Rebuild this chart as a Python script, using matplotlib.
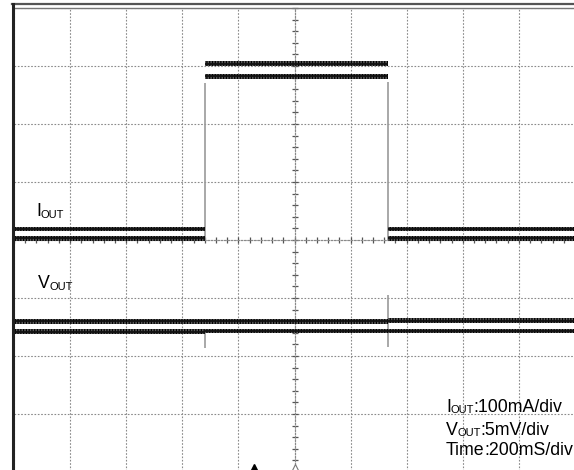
import matplotlib
matplotlib.use("Agg")
import matplotlib.pyplot as plt
from matplotlib.ticker import MultipleLocator, NullFormatter
from matplotlib.lines import Line2D

plt.rcParams["hatch.linewidth"] = 0.9
plt.rcParams["hatch.color"] = "black"

# ---------------- data (time in ms, amplitude in scope divisions) ----------------
segment_edges_ms = [0, 680, 1332, 2000]          # load step on at 680 ms, off at 1332 ms
iout_upper_env = [4.19, 7.04, 4.19]              # peak-detect upper envelope per segment
iout_lower_env = [4.03, 6.82, 4.03]              # peak-detect lower envelope per segment
vout_upper_env = [2.60, 2.60, 2.61]
vout_lower_env = [2.42, 2.43, 2.43]
noise_halfwidth = 0.042                          # half thickness of each envelope trace

iout_edge_ms = [680, 1332]
iout_edge_low = [4.00, 4.00]
iout_edge_high = [6.71, 6.72]

vout_glitch_ms = [680, 1332]
vout_glitch_top = [2.42, 3.05]
vout_glitch_bottom = [2.14, 2.16]

trigger_ms = [855]
center_marker_ms = [1000]
marker_level = [0.04]

label_iout = ("I", "OUT", "")
label_vout = ("V", "OUT", "")
scale_lines = [("I", "OUT", ":100mA/div"), ("V", "OUT", ":5mV/div"), ("Time", "", ":200mS/div")]

# ---------------- figure ----------------
W, H, DPI = 574, 470, 100
fig = plt.figure(figsize=(W / DPI, H / DPI), dpi=DPI)
fig.patch.set_facecolor("white")
ax = fig.add_axes([14 / W, (H - 472) / H, 561 / W, 464 / H])
ax.set_xlim(0, 2000)
ax.set_ylim(0, 8)
ax.set_facecolor("white")

grid_ls = (0, (1.5, 1.5))
ax.xaxis.set_major_locator(MultipleLocator(200))
ax.yaxis.set_major_locator(MultipleLocator(1))
ax.xaxis.set_minor_locator(MultipleLocator(40))
ax.yaxis.set_minor_locator(MultipleLocator(0.2))
ax.grid(True, which="major", color="#8a8a8a", lw=0.8, ls=grid_ls)
ax.xaxis.set_major_formatter(NullFormatter())
ax.yaxis.set_major_formatter(NullFormatter())

for s in ("top", "right"):
    ax.spines[s].set_visible(False)
ax.spines["left"].set_position(("data", 1000))
ax.spines["bottom"].set_position(("data", 4))
for s in ("left", "bottom"):
    ax.spines[s].set_linestyle(grid_ls)
    ax.spines[s].set_color("#8a8a8a")
    ax.spines[s].set_linewidth(0.8)
ax.tick_params(which="both", direction="inout", length=4.5, width=0.9, color="#555555",
               labelbottom=False, labelleft=False)

# ---------------- traces ----------------
def band(edges, levels, hw):
    for i, lv in enumerate(levels):
        ax.fill_between([edges[i], edges[i + 1]], lv - hw, lv + hw, facecolor="#5a5a5a",
                        edgecolor="black", hatch="||||||", lw=0, zorder=3)
        ax.plot([edges[i], edges[i + 1]], [lv, lv], color="#111111", lw=1.3, zorder=3,
                solid_capstyle="butt")

band(segment_edges_ms, iout_upper_env, noise_halfwidth)
band(segment_edges_ms, iout_lower_env, noise_halfwidth)
band(segment_edges_ms, vout_upper_env, noise_halfwidth)
band(segment_edges_ms, vout_lower_env, noise_halfwidth)

ax.vlines(iout_edge_ms, iout_edge_low, iout_edge_high, color="#9a9a9a", lw=1.2, zorder=2)
ax.vlines(vout_glitch_ms, vout_glitch_bottom, vout_glitch_top, color="#9a9a9a", lw=1.2, zorder=2)

ax.plot(trigger_ms, marker_level, ls="none", marker="^", ms=8, color="black", clip_on=False, zorder=4)
ax.plot(center_marker_ms, marker_level, ls="none", marker="^", ms=8, mfc="white", mec="#777777",
        mew=0.8, clip_on=False, zorder=4)

# ---------------- frame ----------------
fig.add_artist(Line2D([12 / W, 1], [1 - 4 / H, 1 - 4 / H], transform=fig.transFigure, color="#555555", lw=1.6))
fig.add_artist(Line2D([14 / W, 1], [1 - 7.5 / H, 1 - 7.5 / H], transform=fig.transFigure, color="#777777", lw=1.0))
fig.add_artist(Line2D([13 / W, 13 / W], [0, 1 - 3.5 / H], transform=fig.transFigure, color="#222222", lw=2.2))

# ---------------- texts ----------------
FONT = "Liberation Sans"
MAIN_SIZE, SUB_SIZE = 12.8, 8.0
renderer = fig.canvas.get_renderer()

def sub_label(x, y, parts):
    main, sub, rest = parts
    off = 0.0
    t = ax.text(x, y, main, fontsize=MAIN_SIZE, family=FONT, va="baseline", ha="left", zorder=5)
    off += t.get_window_extent(renderer).width * 72 / DPI
    if sub:
        t2 = ax.annotate(sub, xy=(x, y), xytext=(off, -1), textcoords="offset points",
                         fontsize=SUB_SIZE, family=FONT, va="baseline", ha="left", zorder=5)
        off += t2.get_window_extent(renderer).width * 72 / DPI
    if rest:
        ax.annotate(rest, xy=(x, y), xytext=(off - 0.4, 0), textcoords="offset points",
                    fontsize=MAIN_SIZE, family=FONT, va="baseline", ha="left", zorder=5)

sub_label(78, 4.41, label_iout)
sub_label(86, 3.17, label_vout)
for (parts, yb) in zip(scale_lines, [1.034, 0.638, 0.293]):
    sub_label(1540, yb, parts)

fig.savefig("out.png", dpi=DPI)
